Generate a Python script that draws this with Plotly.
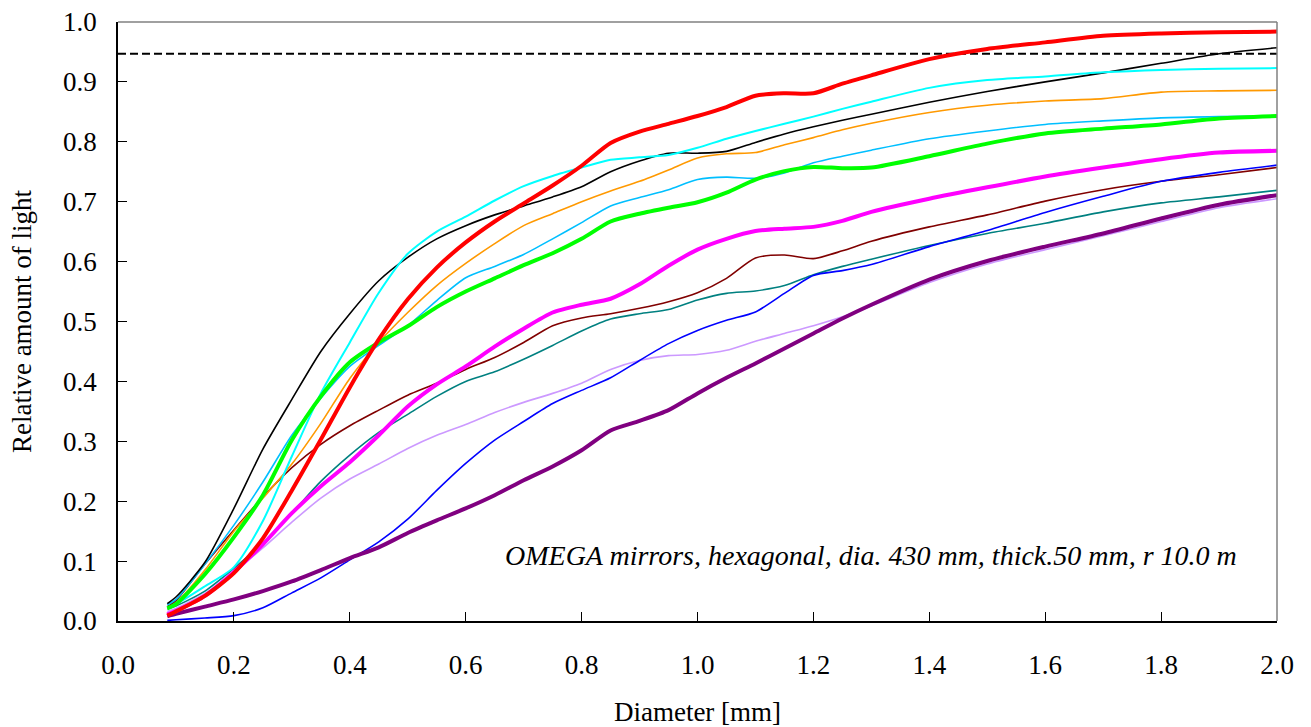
import plotly.graph_objects as go

diameter = [0.085, 0.1, 0.15, 0.2, 0.25, 0.3, 0.35, 0.4, 0.45, 0.5, 0.55, 0.6, 0.65, 0.7, 0.75,
            0.8, 0.85, 0.9, 0.95, 1.0, 1.05, 1.1, 1.15, 1.2, 1.25, 1.3, 1.4, 1.5, 1.6, 1.7, 1.8, 1.9, 2.0]

red = [0.009, 0.016, 0.042, 0.080, 0.138, 0.218, 0.303, 0.390, 0.470, 0.537, 0.590, 0.632, 0.667, 0.697, 0.727,
       0.760, 0.798, 0.817, 0.830, 0.843, 0.858, 0.877, 0.881, 0.881, 0.897, 0.911, 0.938, 0.955, 0.966, 0.977, 0.981, 0.983, 0.984]
cyan = [0.022, 0.028, 0.058, 0.090, 0.167, 0.275, 0.380, 0.465, 0.548, 0.613, 0.650, 0.675, 0.702, 0.726, 0.743,
        0.757, 0.770, 0.774, 0.778, 0.790, 0.805, 0.818, 0.830, 0.842, 0.855, 0.867, 0.890, 0.903, 0.909, 0.916, 0.920, 0.922, 0.923]
black = [0.029, 0.040, 0.098, 0.188, 0.287, 0.370, 0.450, 0.513, 0.568, 0.607, 0.638, 0.660, 0.678, 0.693, 0.708,
         0.725, 0.750, 0.768, 0.781, 0.781, 0.784, 0.799, 0.813, 0.825, 0.836, 0.846, 0.866, 0.884, 0.900, 0.915, 0.931, 0.947, 0.957]
orange = [0.021, 0.030, 0.085, 0.150, 0.205, 0.262, 0.330, 0.405, 0.465, 0.515, 0.560, 0.597, 0.630, 0.660, 0.680,
          0.700, 0.718, 0.734, 0.753, 0.773, 0.780, 0.782, 0.795, 0.807, 0.820, 0.831, 0.849, 0.861, 0.868, 0.872, 0.883, 0.885, 0.886]
skyblue = [0.027, 0.036, 0.095, 0.160, 0.232, 0.310, 0.372, 0.425, 0.460, 0.493, 0.535, 0.573, 0.592, 0.612, 0.638,
           0.665, 0.693, 0.707, 0.720, 0.737, 0.741, 0.739, 0.748, 0.765, 0.776, 0.786, 0.805, 0.818, 0.829, 0.835, 0.840, 0.842, 0.843]
green = [0.021, 0.028, 0.078, 0.140, 0.210, 0.302, 0.375, 0.432, 0.465, 0.492, 0.524, 0.550, 0.572, 0.594, 0.614,
         0.638, 0.667, 0.680, 0.690, 0.699, 0.715, 0.737, 0.751, 0.758, 0.756, 0.757, 0.776, 0.797, 0.814, 0.822, 0.829, 0.839, 0.843]
magenta = [0.011, 0.017, 0.042, 0.082, 0.128, 0.180, 0.225, 0.265, 0.310, 0.358, 0.395, 0.425, 0.458, 0.488, 0.515,
           0.528, 0.538, 0.562, 0.593, 0.620, 0.638, 0.651, 0.655, 0.658, 0.668, 0.683, 0.705, 0.724, 0.742, 0.757, 0.771, 0.782, 0.785]
teal = [0.020, 0.025, 0.050, 0.088, 0.130, 0.180, 0.233, 0.277, 0.315, 0.345, 0.375, 0.400, 0.416, 0.437, 0.460,
        0.484, 0.504, 0.513, 0.520, 0.536, 0.547, 0.551, 0.560, 0.578, 0.592, 0.604, 0.627, 0.647, 0.664, 0.683, 0.698, 0.708, 0.719]
maroon = [0.024, 0.034, 0.095, 0.152, 0.207, 0.256, 0.295, 0.326, 0.352, 0.377, 0.397, 0.420, 0.440, 0.465, 0.493,
          0.506, 0.513, 0.522, 0.533, 0.548, 0.572, 0.606, 0.611, 0.605, 0.618, 0.634, 0.658, 0.678, 0.701, 0.720, 0.734, 0.745, 0.757]
blue = [0.001, 0.002, 0.005, 0.009, 0.022, 0.047, 0.072, 0.102, 0.132, 0.170, 0.218, 0.263, 0.302, 0.333, 0.363,
        0.385, 0.406, 0.435, 0.463, 0.485, 0.502, 0.516, 0.547, 0.577, 0.585, 0.595, 0.625, 0.652, 0.682, 0.709, 0.734, 0.749, 0.761]
purple = [0.008, 0.012, 0.024, 0.036, 0.050, 0.066, 0.085, 0.105, 0.123, 0.147, 0.168, 0.188, 0.210, 0.235, 0.258,
          0.285, 0.318, 0.334, 0.352, 0.380, 0.406, 0.430, 0.455, 0.480, 0.505, 0.528, 0.570, 0.601, 0.625, 0.647, 0.672, 0.695, 0.711]
lavender = [0.016, 0.021, 0.046, 0.082, 0.122, 0.165, 0.205, 0.237, 0.262, 0.288, 0.310, 0.328, 0.348, 0.365, 0.380,
            0.397, 0.420, 0.435, 0.443, 0.445, 0.452, 0.467, 0.480, 0.493, 0.508, 0.526, 0.565, 0.596, 0.620, 0.643, 0.667, 0.690, 0.705]

threshold = 0.947
x_range = [0.0, 2.0]

series = [
    ("lavender", lavender, "#cc99ff", 1.6),
    ("teal", teal, "#008080", 1.6),
    ("maroon", maroon, "#800000", 1.6),
    ("blue", blue, "#0000ff", 1.6),
    ("skyblue", skyblue, "#00bfff", 1.6),
    ("orange", orange, "#ff9900", 1.6),
    ("black", black, "#000000", 1.6),
    ("cyan", cyan, "#00ffff", 2.0),
    ("purple", purple, "#800080", 4.0),
    ("magenta", magenta, "#ff00ff", 4.0),
    ("green", green, "#00ff00", 4.0),
    ("red", red, "#ff0000", 4.0),
]

fig = go.Figure()
fig.add_trace(go.Scatter(x=x_range, y=[threshold, threshold], mode="lines",
                         line=dict(color="black", width=2, dash="8px,4px"), showlegend=False))
for name, vals, color, w in series:
    fig.add_trace(go.Scatter(x=diameter, y=vals, mode="lines", name=name,
                             line=dict(color=color, width=w, shape="spline", smoothing=0.7),
                             showlegend=False))

font_family = "Liberation Serif"
fig.update_layout(
    width=1311, height=727,
    margin=dict(l=118, r=34, t=22, b=106, autoexpand=False),
    paper_bgcolor="white", plot_bgcolor="white",
    font=dict(family=font_family, size=27, color="black"),
    xaxis=dict(range=x_range, dtick=0.2, tick0=0, tickformat=".1f", ticks="inside", ticklen=9,
               tickcolor="black", showline=True, linecolor="black", linewidth=1.5,
               showgrid=False, zeroline=False, ticklabelstandoff=19, automargin=False,
               tickfont=dict(size=27),
               title=dict(text="Diameter [mm]", standoff=23, font=dict(size=27))),
    yaxis=dict(range=[0, 1.0], dtick=0.1, tick0=0, tickformat=".1f", ticks="inside", ticklen=9,
               tickcolor="black", showline=True, linecolor="black", linewidth=1.5,
               showgrid=False, zeroline=False, ticklabelstandoff=14, automargin=False,
               tickfont=dict(size=27),
               title=dict(text="Relative amount of light", standoff=24, font=dict(size=27))),
    shapes=[
        dict(type="line", xref="paper", yref="paper", x0=0, x1=1, y0=1, y1=1,
             line=dict(color="#808080", width=1.5)),
        dict(type="line", xref="paper", yref="paper", x0=1, x1=1, y0=0, y1=1,
             line=dict(color="#808080", width=1.5)),
    ],
    annotations=[dict(text="<i>OMEGA mirrors, hexagonal, dia. 430 mm, thick.50 mm, r 10.0 m</i>",
                      xref="x", yref="y", x=1.935, y=0.11, xanchor="right", yanchor="middle",
                      showarrow=False, font=dict(size=28))],
)

fig.write_html("out.html")
